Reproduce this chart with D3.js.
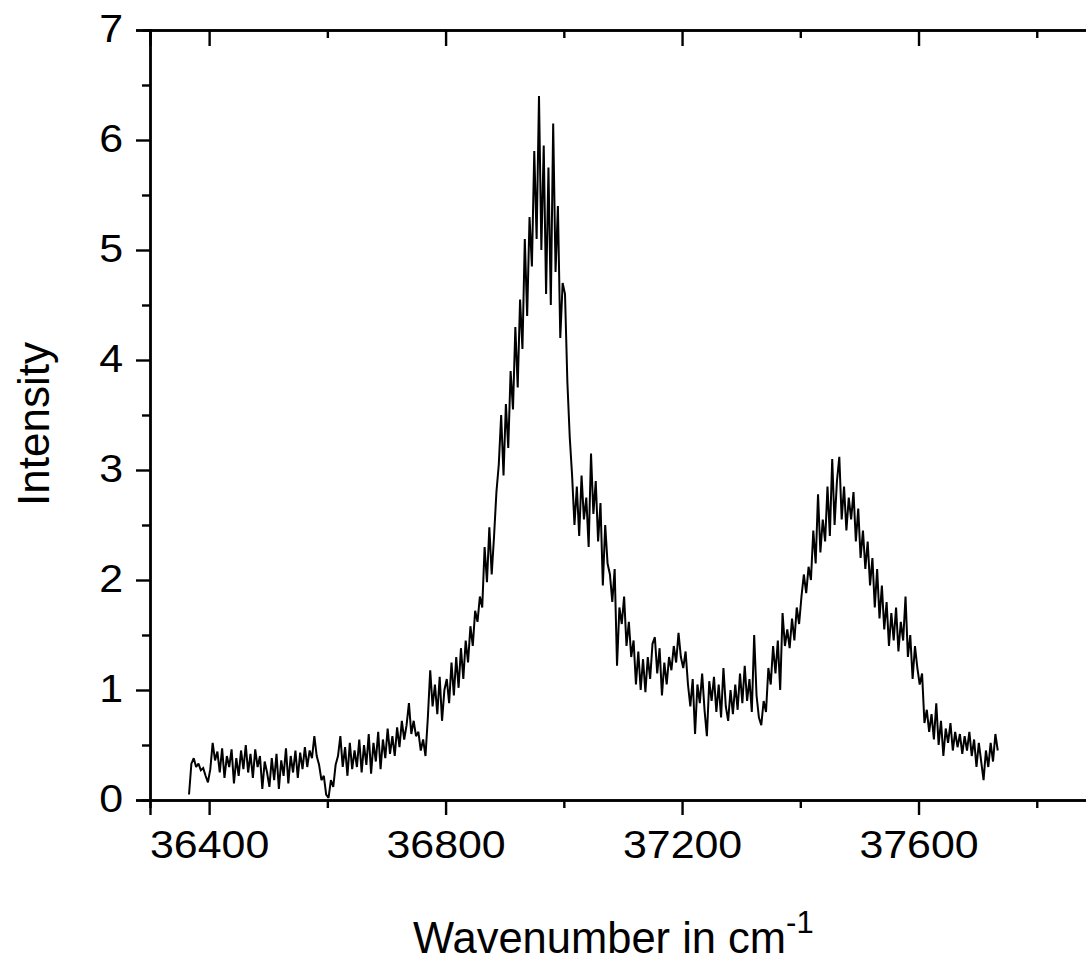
<!DOCTYPE html>
<html>
<head>
<meta charset="utf-8">
<script src="https://cdn.jsdelivr.net/npm/d3@7"></script>
<style>
  html, body { margin: 0; padding: 0; background: #fff; }
  svg { display: block; }
  text { font-family: "Liberation Sans", Arial, sans-serif; fill: #000; }
</style>
</head>
<body>
<svg id="chart" width="1086" height="962"></svg>
<script>
// Spectrum sampled every 4 cm^-1; each block starts at its own wavenumber.
const STEP = 4;
const blockStart = [36366, 36602, 36802, 37002, 37202, 37402, 37602];

// 36366 - 36598: flat baseline
const baseline = [
  0.05, 0.33, 0.38, 0.30, 0.33, 0.27, 0.29, 0.22, 0.16,
  0.28, 0.52, 0.36, 0.44, 0.25, 0.47, 0.20, 0.40, 0.30, 0.46, 0.15,
  0.38, 0.22, 0.45, 0.28, 0.50, 0.25, 0.42, 0.20, 0.46, 0.30,
  0.40, 0.10, 0.35, 0.25,
  0.12, 0.38, 0.18, 0.42, 0.10, 0.36, 0.22, 0.47, 0.15, 0.40,
  0.25, 0.45, 0.20, 0.43, 0.28, 0.48, 0.30, 0.45, 0.38, 0.58,
  0.40, 0.32, 0.18, 0.22, 0.05
];
// 36602 - 36798: slow rise
const rise = [
  0.02, 0.18, 0.12, 0.32, 0.40, 0.58, 0.30, 0.48, 0.22, 0.52,
  0.28, 0.45, 0.30, 0.55, 0.25, 0.50, 0.32, 0.60, 0.24, 0.52,
  0.35, 0.62, 0.28, 0.55, 0.38, 0.65, 0.42, 0.58, 0.40, 0.66,
  0.48, 0.72, 0.55, 0.68, 0.88, 0.60, 0.72, 0.58, 0.62, 0.45,
  0.55, 0.40, 0.75, 1.18, 0.85, 1.05, 0.78, 1.12, 0.72, 1.00
];
// 36802 - 36998: main band
const mainPeak = [
  1.10, 0.88, 1.25, 0.95, 1.30, 1.02, 1.38, 1.10, 1.45, 1.25,
  1.58, 1.40, 1.72, 1.62, 1.85, 1.75, 2.30, 1.98, 2.48, 2.05,
  2.40, 2.80, 3.05, 3.50, 2.95, 3.60, 3.20, 3.90, 3.55, 4.30,
  3.75, 4.55, 4.10, 5.10, 4.40, 5.30, 4.85, 5.90, 5.10, 6.40,
  5.00, 5.95, 4.60, 5.75, 4.50, 6.15, 4.80, 5.40, 4.20, 4.70
];
// 37002 - 37198: shoulder and fall
const shoulder = [
  4.60, 3.80, 3.30, 2.95, 2.50, 2.85, 2.40, 2.95, 2.55, 2.75,
  2.30, 3.15, 2.60, 2.90, 2.35, 2.70, 1.95, 2.50, 2.15, 2.05,
  1.80, 2.10, 1.22, 1.75, 1.60, 1.85, 1.40, 1.62, 1.30, 1.45,
  1.05, 1.35, 1.00, 1.28, 0.98, 1.30, 1.10, 1.42, 1.48, 1.15,
  1.38, 0.95, 1.25, 1.05, 1.30, 1.18, 1.40, 1.25, 1.52, 1.30
];
// 37202 - 37398: valley between the bands
const valley = [
  1.20, 1.35, 1.05, 0.85, 1.10, 0.60, 1.05, 0.88, 1.15, 0.82,
  0.58, 1.08, 0.90, 1.12, 0.80, 1.05, 0.75, 1.20, 0.85, 0.72,
  1.00, 0.78, 1.05, 0.82, 1.15, 0.88, 1.22, 0.90, 1.10, 0.80,
  1.50, 0.95, 0.75, 0.68, 0.90, 0.80, 1.20, 1.05, 1.40, 1.15,
  1.45, 1.00, 1.70, 1.40, 1.55, 1.38, 1.65, 1.45, 1.75, 1.60
];
// 37402 - 37598: second band
const secondPeak = [
  1.85, 2.05, 1.88, 2.12, 2.00, 2.45, 2.15, 2.78, 2.25, 2.55,
  2.35, 2.85, 2.40, 3.10, 2.50, 2.90, 3.12, 2.55, 2.85, 2.45,
  2.75, 2.55, 2.80, 2.35, 2.65, 2.20, 2.45, 2.10, 2.35, 1.95,
  2.20, 1.75, 2.10, 1.65, 1.95, 1.55, 1.80, 1.40, 1.70, 1.45,
  1.75, 1.35, 1.62, 1.45, 1.85, 1.30, 1.50, 1.10, 1.40, 1.20
];
// 37602 - 37734: high-wavenumber tail
const tail = [
  1.05, 1.15, 0.70, 0.82, 0.62, 0.78, 0.55, 0.88, 0.50, 0.72,
  0.40, 0.65, 0.52, 0.70, 0.45, 0.62, 0.48, 0.60, 0.42, 0.58,
  0.45, 0.62, 0.40, 0.55, 0.30, 0.52, 0.35, 0.18, 0.45, 0.30,
  0.52, 0.35, 0.60, 0.45
];

const xMajorTicks = [36400, 36800, 37200, 37600];
const xMinorTicks = [36600, 37000, 37400, 37800];
const yMajorTicks = [0, 1, 2, 3, 4, 5, 6, 7];
const yMinorTicks = [0.5, 1.5, 2.5, 3.5, 4.5, 5.5, 6.5];

const xTitle = "Wavenumber in cm";
const xTitleSup = "-1";
const yTitle = "Intensity";

const blocks = [baseline, rise, mainPeak, shoulder, valley, secondPeak, tail];
const spectrum = blocks.flatMap((vals, k) =>
  vals.map((v, i) => ({ w: blockStart[k] + i * STEP, v })));

const svg = d3.select("#chart");
const plotLeft = 150, plotTop = 30, plotBottom = 800, plotRight = 1155;

const x = d3.scaleLinear().domain([36300, 38000]).range([plotLeft, plotRight]);
const y = d3.scaleLinear().domain([0, 7]).range([plotBottom, plotTop]);

const AX_W = 2.4;
const TICK_FONT = 39;
const STRETCH = 1.1;

function styleAxis(g) {
  g.select(".domain").attr("stroke", "#000").attr("stroke-width", AX_W);
  g.selectAll(".tick line").attr("stroke", "#000").attr("stroke-width", AX_W);
}

// spectrum trace
svg.append("path")
  .datum(spectrum)
  .attr("fill", "none")
  .attr("stroke", "#000")
  .attr("stroke-width", 2)
  .attr("stroke-linejoin", "miter")
  .attr("stroke-miterlimit", 2)
  .attr("d", d3.line().x(d => x(d.w)).y(d => y(d.v)));

// bottom axis: minor then major ticks with labels
svg.append("g").attr("transform", `translate(0,${plotBottom})`)
  .call(d3.axisBottom(x).tickValues(xMinorTicks).tickSize(8).tickFormat(""))
  .call(styleAxis);
const xb = svg.append("g").attr("transform", `translate(0,${plotBottom})`)
  .call(d3.axisBottom(x).tickValues(xMajorTicks).tickSize(15).tickPadding(15.5)
        .tickFormat(d3.format("d")))
  .call(styleAxis);
xb.selectAll(".tick text")
  .attr("font-size", TICK_FONT)
  .attr("font-family", "Liberation Sans, Arial, sans-serif")
  .attr("transform", `scale(${STRETCH},1)`);

// top axis: inward ticks, no labels
svg.append("g").attr("transform", `translate(0,${plotTop})`)
  .call(d3.axisTop(x).tickValues(xMinorTicks).tickSize(-8).tickFormat(""))
  .call(styleAxis);
svg.append("g").attr("transform", `translate(0,${plotTop})`)
  .call(d3.axisTop(x).tickValues(xMajorTicks).tickSize(-16).tickFormat(""))
  .call(styleAxis);

// left axis
svg.append("g").attr("transform", `translate(${plotLeft},0)`)
  .call(d3.axisLeft(y).tickValues(yMinorTicks).tickSize(8).tickFormat(""))
  .call(styleAxis);
const yl = svg.append("g").attr("transform", `translate(${plotLeft},0)`)
  .call(d3.axisLeft(y).tickValues(yMajorTicks).tickSize(14).tickPadding(13)
        .tickFormat(d3.format("d")))
  .call(styleAxis);
yl.selectAll(".tick text")
  .attr("font-size", TICK_FONT)
  .attr("font-family", "Liberation Sans, Arial, sans-serif")
  .attr("x", -27 / STRETCH)
  .attr("dy", "0.3em")
  .attr("transform", `scale(${STRETCH},1)`);

// right frame edge
svg.append("line")
  .attr("x1", plotRight).attr("x2", plotRight)
  .attr("y1", plotTop).attr("y2", plotBottom)
  .attr("stroke", "#000").attr("stroke-width", AX_W);

// axis titles
const xt = svg.append("text")
  .attr("x", 413).attr("y", 953)
  .attr("font-size", 43.5);
xt.append("tspan").text(xTitle);
xt.append("tspan").attr("dy", -20).attr("font-size", 31).text(xTitleSup);

svg.append("text")
  .attr("transform", "translate(49,424) rotate(-90)")
  .attr("text-anchor", "middle")
  .attr("font-size", 44)
  .text(yTitle);
</script>
</body>
</html>
